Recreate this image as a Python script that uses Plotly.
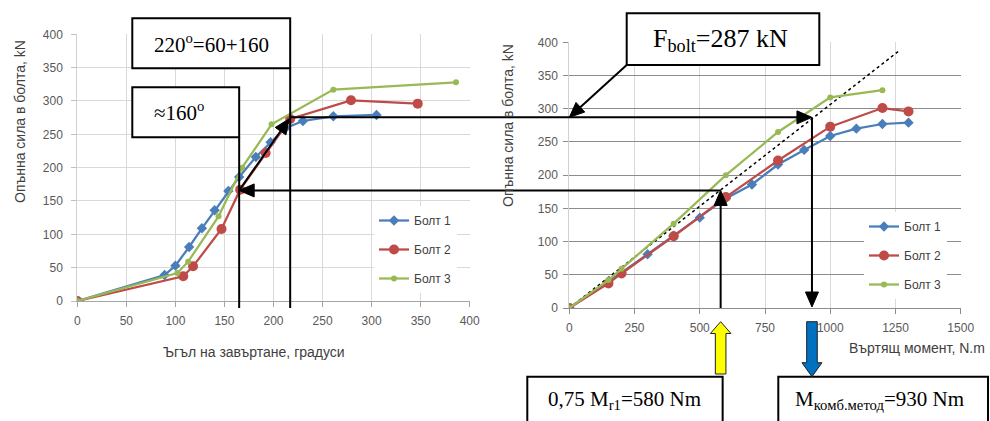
import math
import plotly.graph_objects as go

# ---------------- data ----------------
bolt_names = ["Болт 1", "Болт 2", "Болт 3"]

# Bolt 1
b1_force = [0, 39, 53, 81, 109, 136, 165, 186, 216, 238, 259, 270, 277, 279]
b1_angle = [0, 89, 100, 114, 127, 140, 154, 165, 182, 197, 212, 230, 261, 305]
b1_torque = [0, 150, 200, 300, 400, 500, 600, 700, 800, 900, 1000, 1100, 1200, 1300]
# Bolt 2
b2_force = [0, 37, 52, 108, 167, 222, 273, 301, 296]
b2_angle = [0, 108, 118, 147, 166, 192, 217, 279, 347]
b2_torque = [0, 150, 200, 400, 600, 800, 1000, 1200, 1300]
# Bolt 3
b3_force = [0, 42, 59, 127, 200, 265, 317, 328]
b3_angle = [0, 102, 113, 144, 168, 198, 261, 386]
b3_torque = [0, 150, 200, 400, 600, 800, 1000, 1200]

# dotted trend line (right chart)
trend_torque = [0, 1260]
trend_force = [0, 386]

# reference values used by the construction lines
ANGLE_160 = 165      # deg, "≈160°"
ANGLE_220 = 217      # deg, "220°"
F_BOLT = 287         # kN
M_075 = 580          # Nm
M_COMB = 930         # Nm
F_AT_M075 = 177      # kN

left_xticks = [0, 50, 100, 150, 200, 250, 300, 350, 400]
right_xticks = [0, 250, 500, 750, 1000, 1250, 1500]
yticks = [0, 50, 100, 150, 200, 250, 300, 350, 400]

COLORS = ["#4A7EBB", "#BE4B48", "#98B954"]
SYMBOLS = ["diamond", "circle", "circle"]
SIZES = [8, 10, 6]

# ---------------- layout geometry (pixels) ----------------
W, H = 990, 421
L_X0, L_X1 = 77.3, 469.7
L_Y0, L_Y1 = 301.0, 34.3
R_X0, R_X1 = 569.3, 960.7
R_Y0, R_Y1 = 308.0, 42.3


def PX(x):
    return x / W


def PY(y):
    return 1 - y / H


def lx(a):
    return L_X0 + a / 400 * (L_X1 - L_X0)


def ly(f):
    return L_Y0 - f / 400 * (L_Y0 - L_Y1)


def rx(t):
    return R_X0 + t / 1500 * (R_X1 - R_X0)


def ry(f):
    return R_Y0 - f / 400 * (R_Y0 - R_Y1)


fig = go.Figure()

left_sets = [(b1_angle, b1_force), (b2_angle, b2_force), (b3_angle, b3_force)]
right_sets = [(b1_torque, b1_force), (b2_torque, b2_force), (b3_torque, b3_force)]

for i in range(3):
    xs, ys = left_sets[i]
    fig.add_trace(go.Scatter(
        x=xs, y=ys, mode="lines+markers", name=bolt_names[i],
        line=dict(color=COLORS[i], width=2.25),
        marker=dict(symbol=SYMBOLS[i], size=SIZES[i], color=COLORS[i]),
        xaxis="x", yaxis="y", legend="legend", legendgroup="L%d" % i))

fig.add_trace(go.Scatter(
    x=trend_torque, y=trend_force, mode="lines", showlegend=False,
    line=dict(color="black", width=1.5, dash="dot"), xaxis="x2", yaxis="y2"))

for i in range(3):
    xs, ys = right_sets[i]
    fig.add_trace(go.Scatter(
        x=xs, y=ys, mode="lines+markers", name=bolt_names[i],
        line=dict(color=COLORS[i], width=2.25),
        marker=dict(symbol=SYMBOLS[i], size=SIZES[i], color=COLORS[i]),
        xaxis="x2", yaxis="y2", legend="legend2", legendgroup="R%d" % i))

tickfont = dict(family="Liberation Sans, Arial, sans-serif", size=12, color="#595959")

axis_common = dict(showgrid=True, gridwidth=1, zeroline=False, showline=True,
                   ticks="outside", ticklen=5, tickfont=tickfont, fixedrange=True,
                   automargin=False)

fig.update_layout(
    width=W, height=H, autosize=False,
    margin=dict(l=0, r=0, t=0, b=0, pad=0, autoexpand=False),
    paper_bgcolor="white", plot_bgcolor="white",
    xaxis=dict(domain=[PX(L_X0), PX(L_X1)], range=[0, 400], tickvals=left_xticks,
               gridcolor="#D9D9D9", linecolor="#A6A6A6", tickcolor="#A6A6A6",
               anchor="y", ticklabelstandoff=4, **axis_common),
    yaxis=dict(domain=[PY(L_Y0), PY(L_Y1)], range=[0, 400], tickvals=yticks,
               gridcolor="#D9D9D9", linecolor="#D0D0D0", tickcolor="#BFBFBF",
               anchor="x", ticklabelstandoff=6, **axis_common),
    xaxis2=dict(domain=[PX(R_X0), PX(R_X1)], range=[0, 1500], tickvals=right_xticks,
                gridcolor="#D9D9D9", linecolor="#8C8C8C", tickcolor="#8C8C8C",
                anchor="y2", ticklabelstandoff=4, **axis_common),
    yaxis2=dict(domain=[PY(R_Y0), PY(R_Y1)], range=[0, 400], tickvals=yticks,
                gridcolor="#8C8C8C", linecolor="#D0D0D0", tickcolor="#8C8C8C",
                anchor="x2", ticklabelstandoff=3, **axis_common),
    legend=dict(x=PX(374), y=PY(206), xanchor="left", yanchor="top",
                bgcolor="white", borderwidth=0, tracegroupgap=10, traceorder="grouped",
                font=dict(family="Liberation Sans, Arial, sans-serif", size=12, color="#404040"),
                itemclick=False, itemdoubleclick=False),
    legend2=dict(x=PX(864), y=PY(212), xanchor="left", yanchor="top",
                 bgcolor="white", borderwidth=0, tracegroupgap=10, traceorder="grouped",
                 font=dict(family="Liberation Sans, Arial, sans-serif", size=12, color="#404040"),
                 itemclick=False, itemdoubleclick=False),
)

# ---------------- construction lines / arrows ----------------
shapes = []
LW = 2


def seg(x0, y0, x1, y1, w=LW):
    return dict(type="line", xref="paper", yref="paper",
                x0=PX(x0), y0=PY(y0), x1=PX(x1), y1=PY(y1),
                line=dict(color="black", width=w))


def head(tx, ty, ux, uy, L=15, hw=6.5):
    bx, by = tx - ux * L, ty - uy * L
    nx, ny = -uy, ux
    p1 = (bx + nx * hw, by + ny * hw)
    p2 = (bx - nx * hw, by - ny * hw)
    path = "M{},{} L{},{} L{},{} Z".format(PX(tx), PY(ty), PX(p1[0]), PY(p1[1]),
                                           PX(p2[0]), PY(p2[1]))
    return dict(type="path", xref="paper", yref="paper", path=path,
                fillcolor="black", line=dict(color="black", width=1))


def arrow(x0, y0, x1, y1, L=15, hw=6.5):
    d = math.hypot(x1 - x0, y1 - y0)
    ux, uy = (x1 - x0) / d, (y1 - y0) / d
    return [seg(x0, y0, x1 - ux * (L - 2), y1 - uy * (L - 2)), head(x1, y1, ux, uy, L, hw)]


# boxes
boxA = (132.3, 18.3, lx(ANGLE_220), 68.3)
boxB = (132.3, 87.3, lx(ANGLE_160), 137.3)
boxC = (626.7, 13.3, 819.3, 65.0)
boxD = (527.3, 376.7, rx(M_075) + 2, 424)
boxE = (778.3, 376.7, 988.0, 424)

# vertical lines left chart
shapes.append(seg(lx(ANGLE_160), boxB[3], lx(ANGLE_160), L_Y0 + 7))
shapes.append(seg(lx(ANGLE_220), boxA[3], lx(ANGLE_220), L_Y0 + 7))
# horizontal at F_bolt -> to right chart
shapes += arrow(lx(ANGLE_220), ry(F_BOLT), rx(M_COMB), ry(F_BOLT))
# down to torque axis
shapes += arrow(rx(M_COMB), ry(F_BOLT), rx(M_COMB), ry(0) - 1)
# up from 580 Nm
shapes += arrow(rx(M_075), R_Y0, rx(M_075), ry(F_AT_M075))
# horizontal back to left chart
shapes += arrow(rx(M_075), ry(F_AT_M075), lx(ANGLE_160), ry(F_AT_M075))
# diagonal
shapes += arrow(lx(ANGLE_160), ry(F_AT_M075), lx(ANGLE_220) - 1, ry(F_BOLT) + 1.5)
# F_bolt box pointer
shapes += arrow(boxC[0], boxC[3], rx(0), ry(F_BOLT))

for (x0, y0, x1, y1) in [boxA, boxB, boxC, boxD, boxE]:
    shapes.append(dict(type="rect", xref="paper", yref="paper",
                       x0=PX(x0), y0=PY(y1), x1=PX(x1), y1=PY(y0),
                       fillcolor="white", line=dict(color="black", width=2)))


def block_arrow(xc, y_tip, y_base, y_end, hw_head, hw_shaft, color):
    pts = [(xc, y_tip), (xc + hw_head, y_base), (xc + hw_shaft, y_base),
           (xc + hw_shaft, y_end), (xc - hw_shaft, y_end), (xc - hw_shaft, y_base),
           (xc - hw_head, y_base)]
    path = "M" + " L".join("{},{}".format(PX(a), PY(b)) for a, b in pts) + " Z"
    return dict(type="path", xref="paper", yref="paper", path=path,
                fillcolor=color, line=dict(color="#222222", width=1))


shapes.append(block_arrow(rx(M_075), 321.7, 333.5, 374.0, 10.3, 5.3, "#FFFF00"))
shapes.append(block_arrow(rx(M_COMB), 376.7, 362.7, 321.7, 10.0, 5.3, "#0070C0"))

fig.update_layout(shapes=shapes)

# ---------------- texts ----------------
serif = "Liberation Serif, Times New Roman, serif"
sans = "Liberation Sans, Arial, sans-serif"
ann = []


def text(x, y, s, size, family=serif, xanchor="center", color="black", angle=0):
    ann.append(dict(x=PX(x), y=PY(y), xref="paper", yref="paper", text=s,
                    showarrow=False, xanchor=xanchor, yanchor="middle", textangle=angle,
                    font=dict(family=family, size=size, color=color)))


text((boxA[0] + boxA[2]) / 2, 43, "220<sup>o</sup>=60+160", 21)
text(152, 111, "≈160<sup>o</sup>", 21, xanchor="left")
text((boxC[0] + boxC[2]) / 2 - 3, 40, "F<sub>bolt</sub>=287 kN", 26)
text((boxD[0] + boxD[2]) / 2, 400, "0,75 M<sub>r1</sub>=580 Nm", 21)
text((boxE[0] + boxE[2]) / 2 - 4, 400, "M<sub>комб.метод</sub>=930 Nm", 21)

# axis titles
text(20, 122, "Опънна сила в болта, kN", 14, family=sans, color="#404040", angle=-90)
text(254, 352, "Ъгъл на завъртане, градуси", 14, family=sans, color="#404040")
text(508, 126, "Опънна сила в болта, kN", 14, family=sans, color="#404040", angle=-90)
text(987, 348, "Въртящ момент, N.m", 14, family=sans, color="#404040", xanchor="right")

fig.update_layout(annotations=ann)

fig.write_html("out.html")
